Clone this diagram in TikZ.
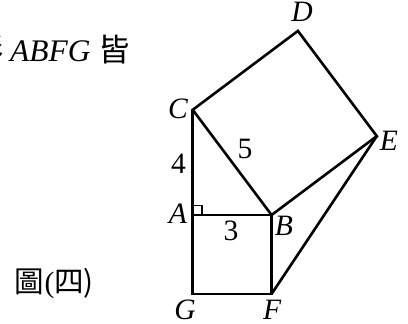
\documentclass[tikz,border=0pt]{standalone}
\usepackage{fontspec}
\setmainfont{Liberation Serif}
\newfontfamily\cjk{Noto Sans CJK TC}
\usepackage{tikz}
\usetikzlibrary{positioning}
\tikzset{
  edge/.style={line width=1.4pt, black},
  vlabel/.style={inner sep=0pt, font=\fontsize{16}{19}\selectfont\itshape},
  lenlabel/.style={inner sep=0pt, font=\fontsize{16}{19}\selectfont},
  caption/.style={inner sep=0pt, font=\fontsize{17}{20}\selectfont}
}

\begin{document}
\begin{tikzpicture}[x=0.5cm,y=0.5cm]
\useasboundingbox (-7.327,-4.144) rectangle (8.186,8.175);
\clip (-7.327,-4.144) rectangle (8.186,8.175);
\coordinate (A) at (0,0);
\coordinate (B) at (3,0);
\coordinate (C) at (0,4);
\coordinate (D) at (4,7);
\coordinate (E) at (7,3);
\coordinate (F) at (3,-3);
\coordinate (G) at (0,-3);
\draw[edge] (C) -- (G) -- (F) -- (B) -- (A);
\draw[edge] (B) -- (C) -- (D) -- (E) -- cycle;
\draw[edge] (E) -- (F);
\draw[line width=1pt] (0,0.36) -| (0.36,0);
\node[vlabel] at (4.156,7.719) (lD) {D};
\node[vlabel] at (-0.559,4.03) (lC) {C};
\node[vlabel] at (7.46,2.81) (lE) {E};
\node[vlabel] at (-0.559,0.04) (lA) {A};
\node[vlabel] at (3.47,-0.42) (lB) {B};
\node[vlabel] at (-0.29,-3.61) (lG) {G};
\node[vlabel] at (3.02,-3.61) (lF) {F};
\node[lenlabel] at (-0.54,1.94) (l4) {4};
\node[lenlabel] at (1.99,2.51) (l5) {5};
\node[lenlabel] at (1.46,-0.61) (l3) {3};
\node[caption, anchor=east] at (-2.38,6.27) (top) {{\cjk 形}\hspace{0.2em}\textit{ABFG} {\cjk 皆}};
\node[lenlabel] at (-5.255,-2.60) (fig) {{\cjk 圖}(\cjk 四)};
\end{tikzpicture}
\end{document}
